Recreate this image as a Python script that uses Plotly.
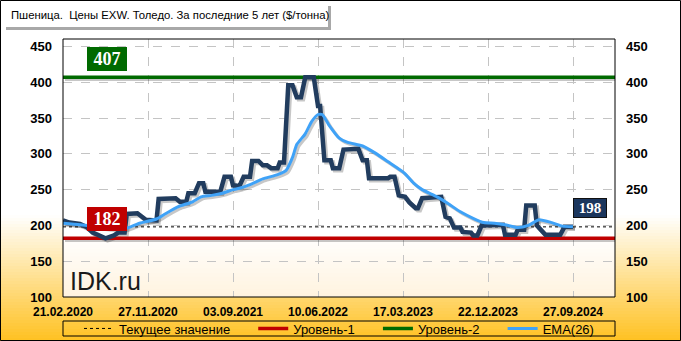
import plotly.graph_objects as go
import pandas as pd

# ---------------- data ----------------
START = pd.Timestamp("2020-02-21")

price_week = [0, 3, 8, 11, 14, 17, 20, 24, 26, 29,
              30, 35, 37, 39, 44, 45, 53, 55, 58, 59,
              62, 64, 66, 67, 74, 76, 79, 80, 83, 85,
              88, 89, 92, 94, 96, 98, 101, 102, 104, 106,
              108, 110, 112, 114, 118, 120, 121, 123, 126, 127,
              130, 132, 139, 141, 143, 144, 153, 154, 156, 158,
              161, 163, 166, 167, 169, 174, 176, 178, 180, 182,
              184, 187, 188, 192, 193, 195, 197, 207, 208, 213,
              214, 217, 218, 222, 223, 226, 227, 234, 236, 240]
price_value = [207, 204, 202, 198, 190, 186, 182, 186, 190, 190,
               216, 217, 212, 208, 207, 237, 238, 233, 233, 245,
               245, 259, 259, 247, 247, 268, 268, 256, 255, 268,
               268, 290, 290, 284, 284, 280, 280, 288, 288, 396,
               396, 379, 379, 407, 407, 367, 367, 291, 291, 280,
               280, 306, 307, 291, 291, 266, 266, 268, 268, 242,
               240, 232, 224, 224, 238, 239, 240, 240, 212, 210,
               197, 197, 191, 190, 186, 186, 200, 201, 187, 187,
               194, 194, 228, 228, 200, 189, 187, 187, 198, 198]

ema_week = [0, 8, 17, 22, 29, 36, 44, 48, 54, 61,
            65, 70, 75, 80, 83, 88, 94, 101, 105, 108,
            110, 114, 117, 120, 122, 125, 130, 134, 141, 147,
            153, 159, 161, 165, 169, 176, 181, 187, 193, 198,
            203, 208, 214, 219, 224, 230, 235, 240]
ema_value = [203, 201, 198, 196, 195, 203, 209, 216, 226, 233,
             240, 242, 245, 250, 252, 257, 265, 271, 277, 295,
             313, 328, 345, 355, 355, 341, 322, 316, 311, 301,
             289, 277, 272, 259, 250, 240, 231, 219, 210, 204,
             203, 201, 197, 200, 208, 204, 199, 198]

level_1 = 182
level_2 = 407
current_value = 198

tick_weeks = [0, 40, 80, 120, 160, 200, 240]
tick_labels = ["21.02.2020", "27.11.2020", "03.09.2021", "10.06.2022",
               "17.03.2023", "22.12.2023", "27.09.2024"]
y_ticks = [100, 150, 200, 250, 300, 350, 400, 450]

title_text = "Пшеница.&nbsp; Цены EXW. Толедо. За последние 5 лет ($/тонна)"
legend_names = ["Текущее значение", "Уровень-1", "Уровень-2", "EMA(26)"]

# ---------------- geometry ----------------
W, H = 681, 341
L, R, T, B = 63, 615, 39, 297
PW, PH = R - L, B - T
PX_PER_WEEK = 2.125
Y0, Y1 = 100, 460.5


def wk(w):
    return START + pd.Timedelta(days=7 * w)


price_x = [wk(w) for w in price_week]
ema_x = [wk(w) for w in ema_week]
tick_x = [wk(w) for w in tick_weeks]
x_lo = wk(0)
x_hi = wk(PW / PX_PER_WEEK)
span_x = [x_lo, x_hi]


def px(x):
    return (x - L) / PW


def py(y):
    return (B - y) / PH


# shadow offset (pixels -> data units)
sh_dx = pd.Timedelta(days=2 * 7 / PX_PER_WEEK)
sh_dy = 2 * (Y1 - Y0) / PH

NAVY = "#213C5E"
BLUE = "#3FA2F7"
RED = "#C00000"
GREEN = "#006A00"
SHADOW = "rgba(0,0,0,0.22)"
PAD = "&nbsp;" * 5

fig = go.Figure()

# shadows on base axes (x, y)
for yy, w in [(level_1, 3.5), (level_2, 3.5)]:
    fig.add_trace(go.Scatter(x=span_x, y=[yy, yy], mode="lines", xaxis="x", yaxis="y",
                             line=dict(color=SHADOW, width=w), showlegend=False, hoverinfo="skip"))
fig.add_trace(go.Scatter(x=price_x, y=price_value, mode="lines", xaxis="x", yaxis="y",
                         line=dict(color=SHADOW, width=4.5), showlegend=False, hoverinfo="skip"))
fig.add_trace(go.Scatter(x=ema_x, y=ema_value, mode="lines", xaxis="x", yaxis="y",
                         line=dict(color=SHADOW, width=3, shape="spline", smoothing=0.5),
                         showlegend=False, hoverinfo="skip"))

# main traces (x2, y2)
fig.add_trace(go.Scatter(x=span_x, y=[current_value, current_value], mode="lines",
                         xaxis="x2", yaxis="y2", name=legend_names[0] + PAD,
                         line=dict(color="black", width=1, dash="3px,3px")))
fig.add_trace(go.Scatter(x=span_x, y=[level_1, level_1], mode="lines",
                         xaxis="x2", yaxis="y2", name=legend_names[1] + PAD,
                         line=dict(color=RED, width=3.5)))
fig.add_trace(go.Scatter(x=span_x, y=[level_2, level_2], mode="lines",
                         xaxis="x2", yaxis="y2", name=legend_names[2] + PAD,
                         line=dict(color=GREEN, width=3.5)))
fig.add_trace(go.Scatter(x=price_x, y=price_value, mode="lines", xaxis="x2", yaxis="y2",
                         line=dict(color=NAVY, width=4.5), showlegend=False))
fig.add_trace(go.Scatter(x=ema_x, y=ema_value, mode="lines", xaxis="x2", yaxis="y2",
                         name=legend_names[3],
                         line=dict(color=BLUE, width=3, shape="spline", smoothing=0.5)))
# helper for right axis
fig.add_trace(go.Scatter(x=[x_lo], y=[current_value], mode="markers", xaxis="x2", yaxis="y3",
                         marker=dict(opacity=0), showlegend=False, hoverinfo="skip"))

# ---------------- background shapes ----------------
shapes = []
g_top, g_bot, n = 215, 341, 42
for i in range(n):
    y0 = g_top + (g_bot - g_top) * i / n
    y1 = g_top + (g_bot - g_top) * (i + 1) / n
    t = (i + 0.5) / n
    g = round(255 - 62 * t)
    b = round(255 - 222 * t)
    shapes.append(dict(type="rect", xref="paper", yref="paper", layer="below",
                       x0=px(0), x1=px(W), y0=py(y1 + 0.5), y1=py(y0),
                       fillcolor=f"rgb(255,{g},{b})", line=dict(width=0)))
shapes.append(dict(type="rect", xref="paper", yref="paper", layer="below",
                   x0=0, x1=1, y0=0, y1=1, fillcolor="white", line=dict(width=0)))
p_top, n2 = 232, 16
for i in range(n2):
    y0 = p_top + (B - p_top) * i / n2
    y1 = p_top + (B - p_top) * (i + 1) / n2
    t = (i + 0.5) / n2
    g = round(255 - 12 * t)
    b = round(255 - 32 * t)
    shapes.append(dict(type="rect", xref="paper", yref="paper", layer="below",
                       x0=0, x1=1, y0=py(min(y1 + 0.5, B)), y1=py(y0),
                       fillcolor=f"rgb(255,{g},{b})", line=dict(width=0)))
shapes.append(dict(type="rect", xref="paper", yref="paper", layer="below",
                   x0=px(6), x1=px(331), y0=py(30), y1=py(6),
                   fillcolor="#A8A8A8", line=dict(width=0)))
shapes.append(dict(type="rect", xref="paper", yref="paper", layer="below",
                   x0=px(3), x1=px(328), y0=py(27), y1=py(3),
                   fillcolor="white", line=dict(width=0)))
shapes.append(dict(type="rect", xref="paper", yref="paper", layer="above",
                   x0=0, x1=1, y0=0, y1=1, line=dict(color="black", width=1)))
shapes.append(dict(type="rect", xref="paper", yref="paper", layer="above",
                   x0=0, x1=1, y0=py(336), y1=py(321), line=dict(color="black", width=1)))
shapes.append(dict(type="rect", xref="paper", yref="paper", layer="above",
                   x0=px(0.5), x1=px(W - 0.5), y0=py(H - 0.5), y1=py(0.5),
                   line=dict(color="black", width=1)))

# ---------------- annotations ----------------
ann = []
ann.append(dict(xref="paper", yref="paper", x=px(9), y=py(15), xanchor="left", yanchor="middle",
                text=title_text, showarrow=False,
                font=dict(family="Liberation Sans, Arial, sans-serif", size=11.3, color="black")))
ann.append(dict(xref="paper", yref="paper", x=px(68), y=py(281), xanchor="left", yanchor="middle",
                text="IDK.ru", showarrow=False,
                font=dict(family="Liberation Sans, Arial, sans-serif", size=25, color="#1A1A1A")))


def value_label(text, xc, yval, color, size, yshift, border):
    ann.append(dict(xref="paper", yref="y2", x=px(xc), y=yval, xanchor="center",
                    yanchor="bottom", yshift=yshift,
                    text=text, showarrow=False, bgcolor=color, borderpad=1,
                    bordercolor=border, borderwidth=1,
                    font=dict(family="Liberation Serif, DejaVu Serif, serif", size=size,
                              color="white", weight="bold")))


value_label("&nbsp;" + str(level_2) + "&nbsp;", 107, level_2, GREEN, 18, 6, GREEN)
value_label("&nbsp;" + str(level_1) + "&nbsp;", 107, level_1, RED, 18, 7, RED)
value_label("&nbsp;" + str(current_value) + "&nbsp;", 590, current_value, "#1B365D", 15, 9, "#101010")

tickfont = dict(family="Liberation Sans, Arial, sans-serif", size=12, color="black", weight="bold")

fig.update_layout(
    width=W, height=H,
    margin=dict(l=L, r=W - R, t=T, b=H - B, pad=0, autoexpand=False),
    paper_bgcolor="white", plot_bgcolor="rgba(0,0,0,0)",
    showlegend=True,
    legend=dict(orientation="h", x=0.5, xanchor="center", y=py(328.5), yanchor="middle",
                bgcolor="rgba(0,0,0,0)", borderwidth=0, itemwidth=30,
                font=dict(family="Liberation Sans Narrow, Arial Narrow, Liberation Sans, sans-serif",
                          size=13, color="black"),
                traceorder="normal", tracegroupgap=0),
    xaxis=dict(type="date", range=[x_lo - sh_dx, x_hi - sh_dx], showgrid=False, zeroline=False,
               showticklabels=False, showline=False, ticks=""),
    yaxis=dict(range=[Y0 + sh_dy, Y1 + sh_dy], showgrid=False, zeroline=False,
               showticklabels=False, showline=False, ticks=""),
    xaxis2=dict(type="date", overlaying="x", anchor="y2", side="bottom", range=[x_lo, x_hi],
                tickvals=tick_x, ticktext=tick_labels, showgrid=True, gridcolor="#C4C4C4",
                griddash="dash", gridwidth=1, zeroline=False, showline=False, ticks="",
                tickfont=tickfont, ticklabelstandoff=6),
    yaxis2=dict(overlaying="y", anchor="x2", side="left", range=[Y0, Y1], tickvals=y_ticks,
                showgrid=True, gridcolor="#C4C4C4", griddash="dash", gridwidth=1,
                zeroline=False, showline=False, ticks="", tickfont=dict(tickfont, size=13),
                ticklabelstandoff=10),
    yaxis3=dict(overlaying="y", anchor="x2", side="right", range=[Y0, Y1], tickvals=y_ticks,
                showgrid=False, zeroline=False, showline=False, ticks="",
                tickfont=dict(tickfont, size=13), ticklabelstandoff=10),
    shapes=shapes,
    annotations=ann,
    hovermode=False,
)

fig.write_html("out.html")
